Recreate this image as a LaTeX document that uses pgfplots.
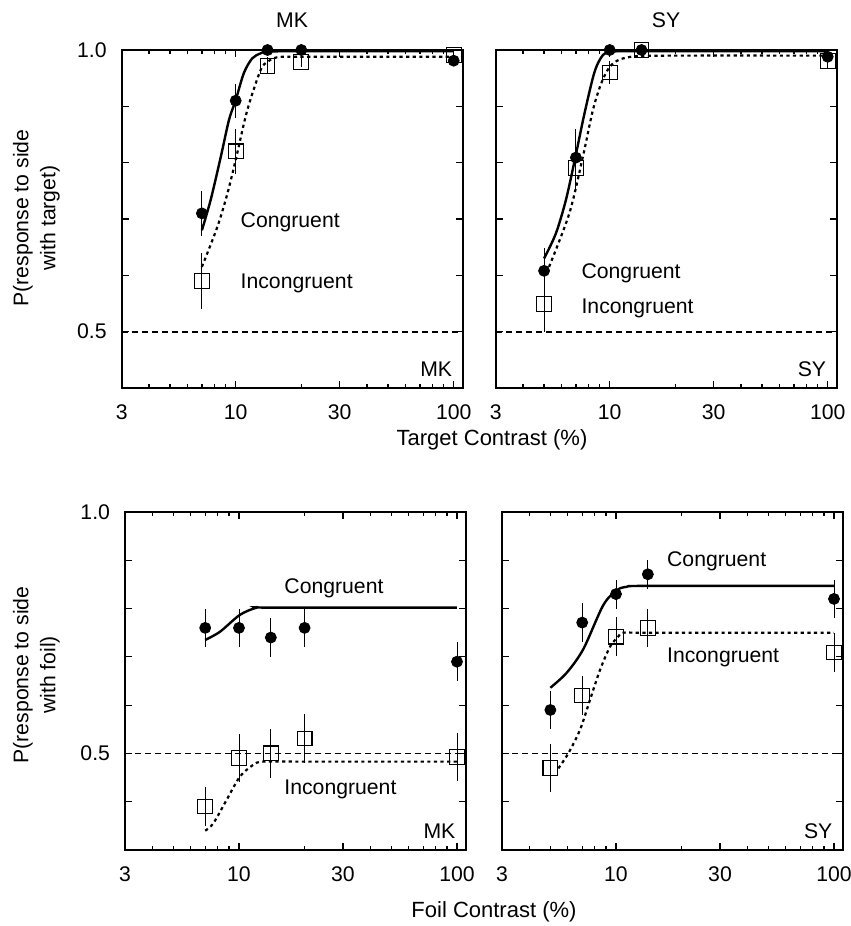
\documentclass[border=0pt]{standalone}
\usepackage{fontspec}
\setmainfont{Liberation Sans}
\usepackage{pgfplots}
\pgfplotsset{compat=1.18}

\pgfplotsset{
  panel/.style={
    scale only axis, width=170.5pt, height=169pt,
    xmin=3, xmax=110,
    xtick={3,10,30,100}, xticklabels={3,10,30,100},
    minor xtick={4,5,6,7,8,9,20,40,50,60,70,80,90},
    tick align=inside,
    major tick length=3.5pt, minor tick length=2pt,
    axis line style={line width=1pt},
    tick style={black, line width=0.6pt},
    clip=false,
    font=\fontsize{10.6}{12.7}\selectfont,
    /pgf/number format/assume math mode=true,
    xticklabel style={yshift=-5pt},
    yticklabel style={xshift=-4pt},
  },
  toprow/.style={ymin=0.4, ymax=1.0, ytick={0.4,0.5,0.6,0.7,0.8,0.9,1.0}},
  botrow/.style={ymin=0.3, ymax=1.0, ytick={0.3,0.4,0.5,0.6,0.7,0.8,0.9,1.0}},
  cong/.style={only marks, mark=*, mark size=2.75pt, black,
    error bars/.cd, y dir=both, y explicit, error mark=none,
    error bar style={line width=0.45pt, black}},
  incong/.style={only marks, mark=square, mark size=3.7pt, black,
    mark options={line width=0.55pt, fill=none},
    error bars/.cd, y dir=both, y explicit, error mark=none,
    error bar style={line width=0.45pt, black}},
  fitc/.style={no marks, line width=1.2pt, black, smooth},
  fiti/.style={no marks, line width=1.1pt, black, smooth, dash pattern=on 1.6pt off 1.7pt},
  chance/.style={no marks, line width=0.9pt, black, dash pattern=on 3pt off 2pt},
}
\tikzset{
  lbl/.style={anchor=west, inner sep=0pt, font=\fontsize{10.6}{12.7}\selectfont},
  corner/.style={anchor=base east, inner sep=0pt, font=\fontsize{10.6}{12.7}\selectfont},
}

\begin{document}
\begin{tikzpicture}
\useasboundingbox (0,0) rectangle (425.5pt,463pt);

% ---------- Target contrast, MK ----------
\begin{semilogxaxis}[panel, toprow, at={(60.85pt,269pt)}, anchor=south west,
  yticklabels={,0.5,,,,,1.0}]
  \addplot[chance] coordinates {(3,0.5) (110,0.5)};
  \addplot[fitc] coordinates {(7.0,0.680) (7.68,0.734) (8.54,0.810) (9.32,0.876) (10.0,0.911)
    (10.9,0.959) (11.9,0.985) (13.0,0.994) (14.0,0.997) (20,0.998) (100,0.998)};
  \addplot[fiti] coordinates {(7.0,0.615) (8.24,0.686) (9.16,0.745) (10.0,0.805) (11.3,0.893)
    (13.0,0.964) (14.0,0.979) (15.5,0.987) (20,0.988) (100,0.988)};
  \addplot[cong] coordinates {(7,0.71) +- (0,0.04) (10,0.91) +- (0,0.03)
    (14,1.0) +- (0,0.005) (20,1.0) +- (0,0.005) (100,0.981) +- (0,0.01)};
  \addplot[incong] coordinates {(7,0.59) +- (0,0.05) (10,0.82) +- (0,0.04)
    (14,0.972) +- (0,0.015) (20,0.979) +- (0,0.01) (100,0.991) +- (0,0.01)};
  \node[lbl] at (axis cs:10.5,0.695) {Congruent};
  \node[lbl] at (axis cs:10.5,0.586) {Incongruent};
  \node[corner] at (rel axis cs:0.97,0.035) {MK};
\end{semilogxaxis}
\node[font=\fontsize{10.6}{12.7}\selectfont] at (146pt,453pt) {MK};

% ---------- Target contrast, SY ----------
\begin{semilogxaxis}[panel, toprow, at={(247.85pt,269pt)}, anchor=south west,
  yticklabels={}]
  \addplot[chance] coordinates {(3,0.5) (110,0.5)};
  \addplot[fitc] coordinates {(5.0,0.630) (5.66,0.674) (6.30,0.734) (6.96,0.810) (7.66,0.887)
    (8.52,0.961) (9.31,0.991) (10.2,0.997) (14,0.998) (100,0.998)};
  \addplot[fiti] coordinates {(5.27,0.615) (6.53,0.710) (7.53,0.810) (8.37,0.893) (9.15,0.941)
    (10.0,0.970) (11.1,0.983) (13.3,0.989) (20,0.990) (100,0.990)};
  \addplot[cong] coordinates {(5,0.608) +- (0,0.04) (7,0.809) +- (0,0.05)
    (10,1.0) +- (0,0.005) (14,1.0) +- (0,0.005) (100,0.988) +- (0,0.01)};
  \addplot[incong] coordinates {(5,0.549) +- (0,0.05) (7,0.79) +- (0,0.04)
    (10,0.96) +- (0,0.02) (14,1.0) +- (0,0.005) (100,0.981) +- (0,0.015)};
  \node[lbl] at (axis cs:7.4,0.604) {Congruent};
  \node[lbl] at (axis cs:7.4,0.541) {Incongruent};
  \node[corner] at (rel axis cs:0.97,0.035) {SY};
\end{semilogxaxis}
\node[font=\fontsize{10.6}{12.7}\selectfont] at (333pt,453pt) {SY};

\node[font=\fontsize{11}{13}\selectfont] at (246pt,243pt) {Target Contrast (\%)};
\node[font=\fontsize{10.6}{13.5}\selectfont, rotate=90, align=center] at (18.25pt,354pt)
  {P(response to side\\with target)};

% ---------- Foil contrast, MK ----------
\begin{semilogxaxis}[panel, botrow, at={(62.5pt,38pt)}, anchor=south west,
  yticklabels={,,0.5,,,,,1.0}]
  \addplot[chance] coordinates {(3,0.5) (110,0.5)};
  \addplot[fitc] coordinates {(7.0,0.735) (8.18,0.752) (10.1,0.787) (12.1,0.802) (14,0.802) (100,0.802)};
  \addplot[fiti] coordinates {(7.0,0.340) (7.62,0.355) (8.78,0.404) (10.1,0.452) (11.6,0.476)
    (12.9,0.483) (20,0.483) (100,0.483)};
  \addplot[cong] coordinates {(7,0.760) +- (0,0.04) (10,0.760) +- (0,0.04)
    (14,0.740) +- (0,0.04) (20,0.760) +- (0,0.04) (100,0.690) +- (0,0.04)};
  \addplot[incong] coordinates {(7,0.390) +- (0,0.04) (10,0.490) +- (0,0.05)
    (14,0.500) +- (0,0.05) (20,0.531) +- (0,0.05) (100,0.493) +- (0,0.05)};
  \node[lbl] at (axis cs:16.1,0.842) {Congruent};
  \node[lbl] at (axis cs:16.1,0.426) {Incongruent};
  \node[corner] at (rel axis cs:0.97,0.035) {MK};
\end{semilogxaxis}

% ---------- Foil contrast, SY ----------
\begin{semilogxaxis}[panel, botrow, at={(251pt,38pt)}, anchor=south west,
  yticklabels={}]
  \addplot[chance] coordinates {(3,0.5) (110,0.5)};
  \addplot[fitc] coordinates {(5.0,0.636) (5.94,0.667) (7.08,0.716) (8.74,0.807) (10.1,0.838)
    (11.2,0.845) (14,0.847) (100,0.847)};
  \addplot[fiti] coordinates {(5.44,0.469) (6.04,0.500) (6.84,0.549) (7.60,0.611) (8.45,0.673)
    (9.39,0.721) (10.25,0.742) (10.8,0.750) (14,0.750) (100,0.750)};
  \addplot[cong] coordinates {(5,0.590) +- (0,0.04) (7,0.771) +- (0,0.04)
    (10,0.830) +- (0,0.03) (14,0.871) +- (0,0.03) (100,0.820) +- (0,0.04)};
  \addplot[incong] coordinates {(5,0.470) +- (0,0.05) (7,0.620) +- (0,0.04)
    (10,0.742) +- (0,0.04) (14,0.760) +- (0,0.04) (100,0.709) +- (0,0.04)};
  \node[lbl] at (axis cs:17.1,0.897) {Congruent};
  \node[lbl] at (axis cs:17.1,0.698) {Incongruent};
  \node[corner] at (rel axis cs:0.97,0.035) {SY};
\end{semilogxaxis}

\node[font=\fontsize{11}{13}\selectfont] at (247pt,7pt) {Foil Contrast (\%)};
\node[font=\fontsize{10.6}{13.5}\selectfont, rotate=90, align=center] at (18.25pt,125.5pt)
  {P(response to side\\with foil)};
\end{tikzpicture}
\end{document}
